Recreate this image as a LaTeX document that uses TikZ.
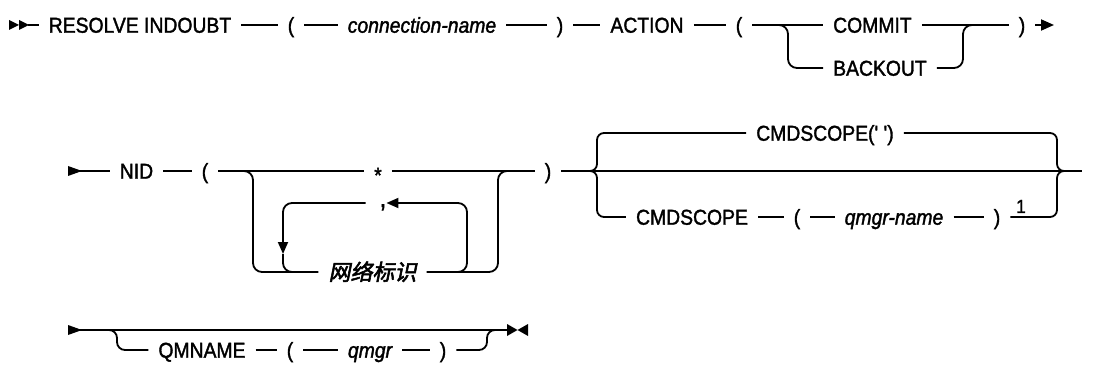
\documentclass[tikz,border=0pt]{standalone}
\usepackage{fontspec}
\setmainfont{Liberation Sans}[Ligatures=TeXOff,FakeStretch=0.9,FakeBold=1.6]
\newfontfamily\cjk[FakeSlant=0.2,FakeBold=2.5]{Noto Sans CJK SC}
\usetikzlibrary{arrows.meta}
\begin{document}
\begin{tikzpicture}[x=1pt,y=-1pt,
  rail/.style={line width=1.8pt},
  tok/.style={inner xsep=10pt,inner ysep=0pt,text height=17.4pt,text depth=2pt,font=\fontsize{21.5}{24}\selectfont},
  var/.style={tok,font=\fontsize{21.5}{24}\selectfont\itshape},
  cjktok/.style={inner xsep=10pt,inner ysep=0pt,text height=18.4pt,text depth=2pt,font=\fontsize{22}{25}\selectfont\cjk},
  tip/.style={-{Triangle[length=12pt,width=10pt]}},
  branch/.style={rail,rounded corners=9pt},
  brace/.style={rail,rounded corners=7pt},
  marker/.style={fill=black}
]
\useasboundingbox (0,0) rectangle (1099,379);

% ---------- row 1 ----------
\fill[marker] (9,20) -- (19,25) -- (9,30) -- cycle;
\fill[marker] (19,20) -- (29,25) -- (19,30) -- cycle;
\coordinate (s1) at (28,25);
\node[tok] (resolve) at (140,25) {RESOLVE INDOUBT};
\node[tok] (lp1) at (291,25) {(};
\node[var] (conn) at (422,25) {connection-name};
\node[tok] (rp1) at (560,25) {)};
\node[tok] (action) at (647,25) {ACTION};
\node[tok] (lp2) at (739,25) {(};
\node[tok,anchor=west] (commit) at (823,25) {COMMIT};
\node[tok,anchor=west] (backout) at (823,68) {BACKOUT};
\node[tok] (rp2) at (1022,25) {)};
\coordinate (e1) at (1054,25);
\draw[rail] (s1) -- (resolve) -- (lp1) -- (conn) -- (rp1) -- (action) -- (lp2) -- (commit) -- (rp2);
\draw[rail,-{Triangle[length=13pt,width=11pt]}] (rp2) -- (e1);
\draw[branch] (778,25) -| (788,68) -- (backout);
\draw[branch] (backout) -| (963,25) -- (973,25);

% ---------- row 2 ----------
\fill[marker] (68,166) -- (82,171) -- (68,176) -- cycle;
\coordinate (s2) at (80,171);
\node[tok] (nid) at (136.5,171) {NID};
\node[tok] (lp3) at (205,171) {(};
\node[tok] (star) at (378,171) {\raisebox{-4pt}{*}};
\node[tok] (rp3) at (548,171) {)};
\coordinate (e2) at (1082,171);
\draw[rail] (s2) -- (nid) -- (lp3) -- (star) -- (rp3) -- (e2);

% choice with repeat loop
\node[cjktok] (netid) at (372.5,272) {网络标识};
\draw[branch] (243,171) -| (253,272) -- (netid);
\draw[branch] (netid) -| (498,171) -- (508,171);
\node[inner sep=0pt,text height=10pt,text depth=2pt,font=\fontsize{26}{28}\selectfont] (comma) at (376,203) {\hspace*{14pt},};
\coordinate (dn) at (283,254);
\draw[rail,rounded corners=9pt,tip] (455,272) -| (467,203) -- (comma);
\draw[rail,rounded corners=9pt,tip] (comma) -| (dn);
\draw[branch] (dn) |- (295,272);

% CMDSCOPE group
\node[tok] (cmdtop) at (825,133) {CMDSCOPE(' ')};
\node[tok] (cmd2) at (692,217) {CMDSCOPE};
\node[tok] (lp4) at (797,217) {(};
\node[var] (qname) at (894,217) {qmgr-name};
\node[tok] (rp4) at (997,217) {)};
\node[anchor=base,inner sep=0pt,font=\fontsize{19}{21}\selectfont] (note1) at (1021,213) {1};
\draw[brace] (580,171) -| (597,133) -- (cmdtop);
\draw[brace] (580,171) -| (597,217) -- (cmd2);
\draw[rail] (cmd2) -- (lp4) -- (qname) -- (rp4);
\draw[brace] (cmdtop) -| (1057,171) -- (1067,171);
\draw[brace] (rp4) -| (1057,171) -- (1067,171);

% ---------- row 3 ----------
\fill[marker] (68,325) -- (82,330) -- (68,335) -- cycle;
\coordinate (s3) at (80,330);
\coordinate (e3) at (507,330);
\draw[rail] (s3) -- (e3);
\fill[marker] (507,324) -- (517.5,330) -- (507,336) -- cycle;
\fill[marker] (528,324) -- (517.5,330) -- (528,336) -- cycle;
\node[tok] (qm) at (202,350) {QMNAME};
\node[tok] (lp5) at (290,350) {(};
\node[var] (qmgr) at (370,350) {qmgr};
\node[tok] (rp5) at (443,350) {)};
\draw[rail,rounded corners=8pt] (107,330) -| (117,350) -- (qm);
\draw[rail] (qm) -- (lp5) -- (qmgr) -- (rp5);
\draw[rail,rounded corners=8pt] (rp5) -| (487,330) -- (497,330);
\end{tikzpicture}
\end{document}
